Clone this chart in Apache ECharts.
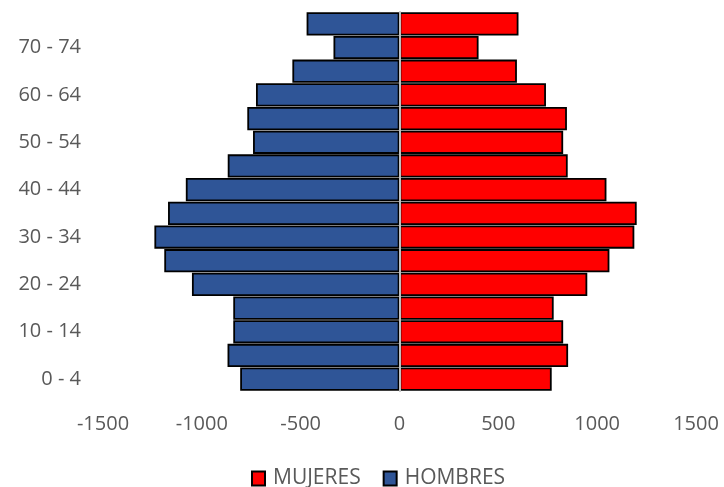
<!DOCTYPE html>
<html><head><meta charset="utf-8">
<script src="https://cdn.jsdelivr.net/npm/echarts@6/dist/echarts.min.js"></script>
<style>html,body{margin:0;padding:0;background:#fff}#c{width:724px;height:487px}</style>
</head><body><div id="c"></div>
<script>
const categories = ["0 - 4","5 - 9","10 - 14","15 - 19","20 - 24","25 - 29","30 - 34","35 - 39","40 - 44","45 - 49","50 - 54","55 - 59","60 - 64","65 - 69","70 - 74","75 +"];
const mujeres = [770, 853, 828, 780, 950, 1062, 1188, 1200, 1047, 851, 828, 847, 741, 594, 400, 602];
const hombres = [-806, -870, -841, -841, -1050, -1190, -1240, -1171, -1081, -869, -741, -770, -726, -542, -334, -470];
const xTicks = { min: -1500, max: 1500, interval: 500 };

const chart = echarts.init(document.getElementById('c'));
const font = "'Open Sans', 'Liberation Sans', sans-serif";
chart.setOption({
  animation: false,
  textStyle: { fontFamily: font },
  grid: { left: 103, right: 28, top: 12, bottom: 96 },
  legend: {
    top: 463, left: 246, icon: 'rect', itemWidth: 13, itemHeight: 14, itemGap: 22,
    textStyle: { fontSize: 21, color: '#595959', fontFamily: font, padding: [0, 0, 0, 3] },
    data: ['MUJERES', 'HOMBRES']
  },
  xAxis: {
    type: 'value', min: xTicks.min, max: xTicks.max, interval: xTicks.interval,
    axisLine: { show: false }, axisTick: { show: false }, splitLine: { show: false },
    axisLabel: { fontSize: 20, color: '#595959', margin: 23, fontFamily: font,
      formatter: v => String(v) }
  },
  yAxis: {
    type: 'category', data: categories, z: 10,
    axisLine: { show: true, onZero: true, lineStyle: { color: '#bfbfbf', width: 2 } },
    axisTick: { show: false },
    axisLabel: { interval: 1, fontSize: 20, color: '#595959', fontFamily: font, margin: 22 }
  },
  series: [
    { name: 'MUJERES', type: 'bar', stack: 't', data: mujeres, barCategoryGap: '2%',
      itemStyle: { color: '#FF0000', borderColor: '#000', borderWidth: 1.8 } },
    { name: 'HOMBRES', type: 'bar', stack: 't', data: hombres, barCategoryGap: '2%',
      itemStyle: { color: '#2F5597', borderColor: '#000', borderWidth: 1.8 } }
  ]
});
</script></body></html>
